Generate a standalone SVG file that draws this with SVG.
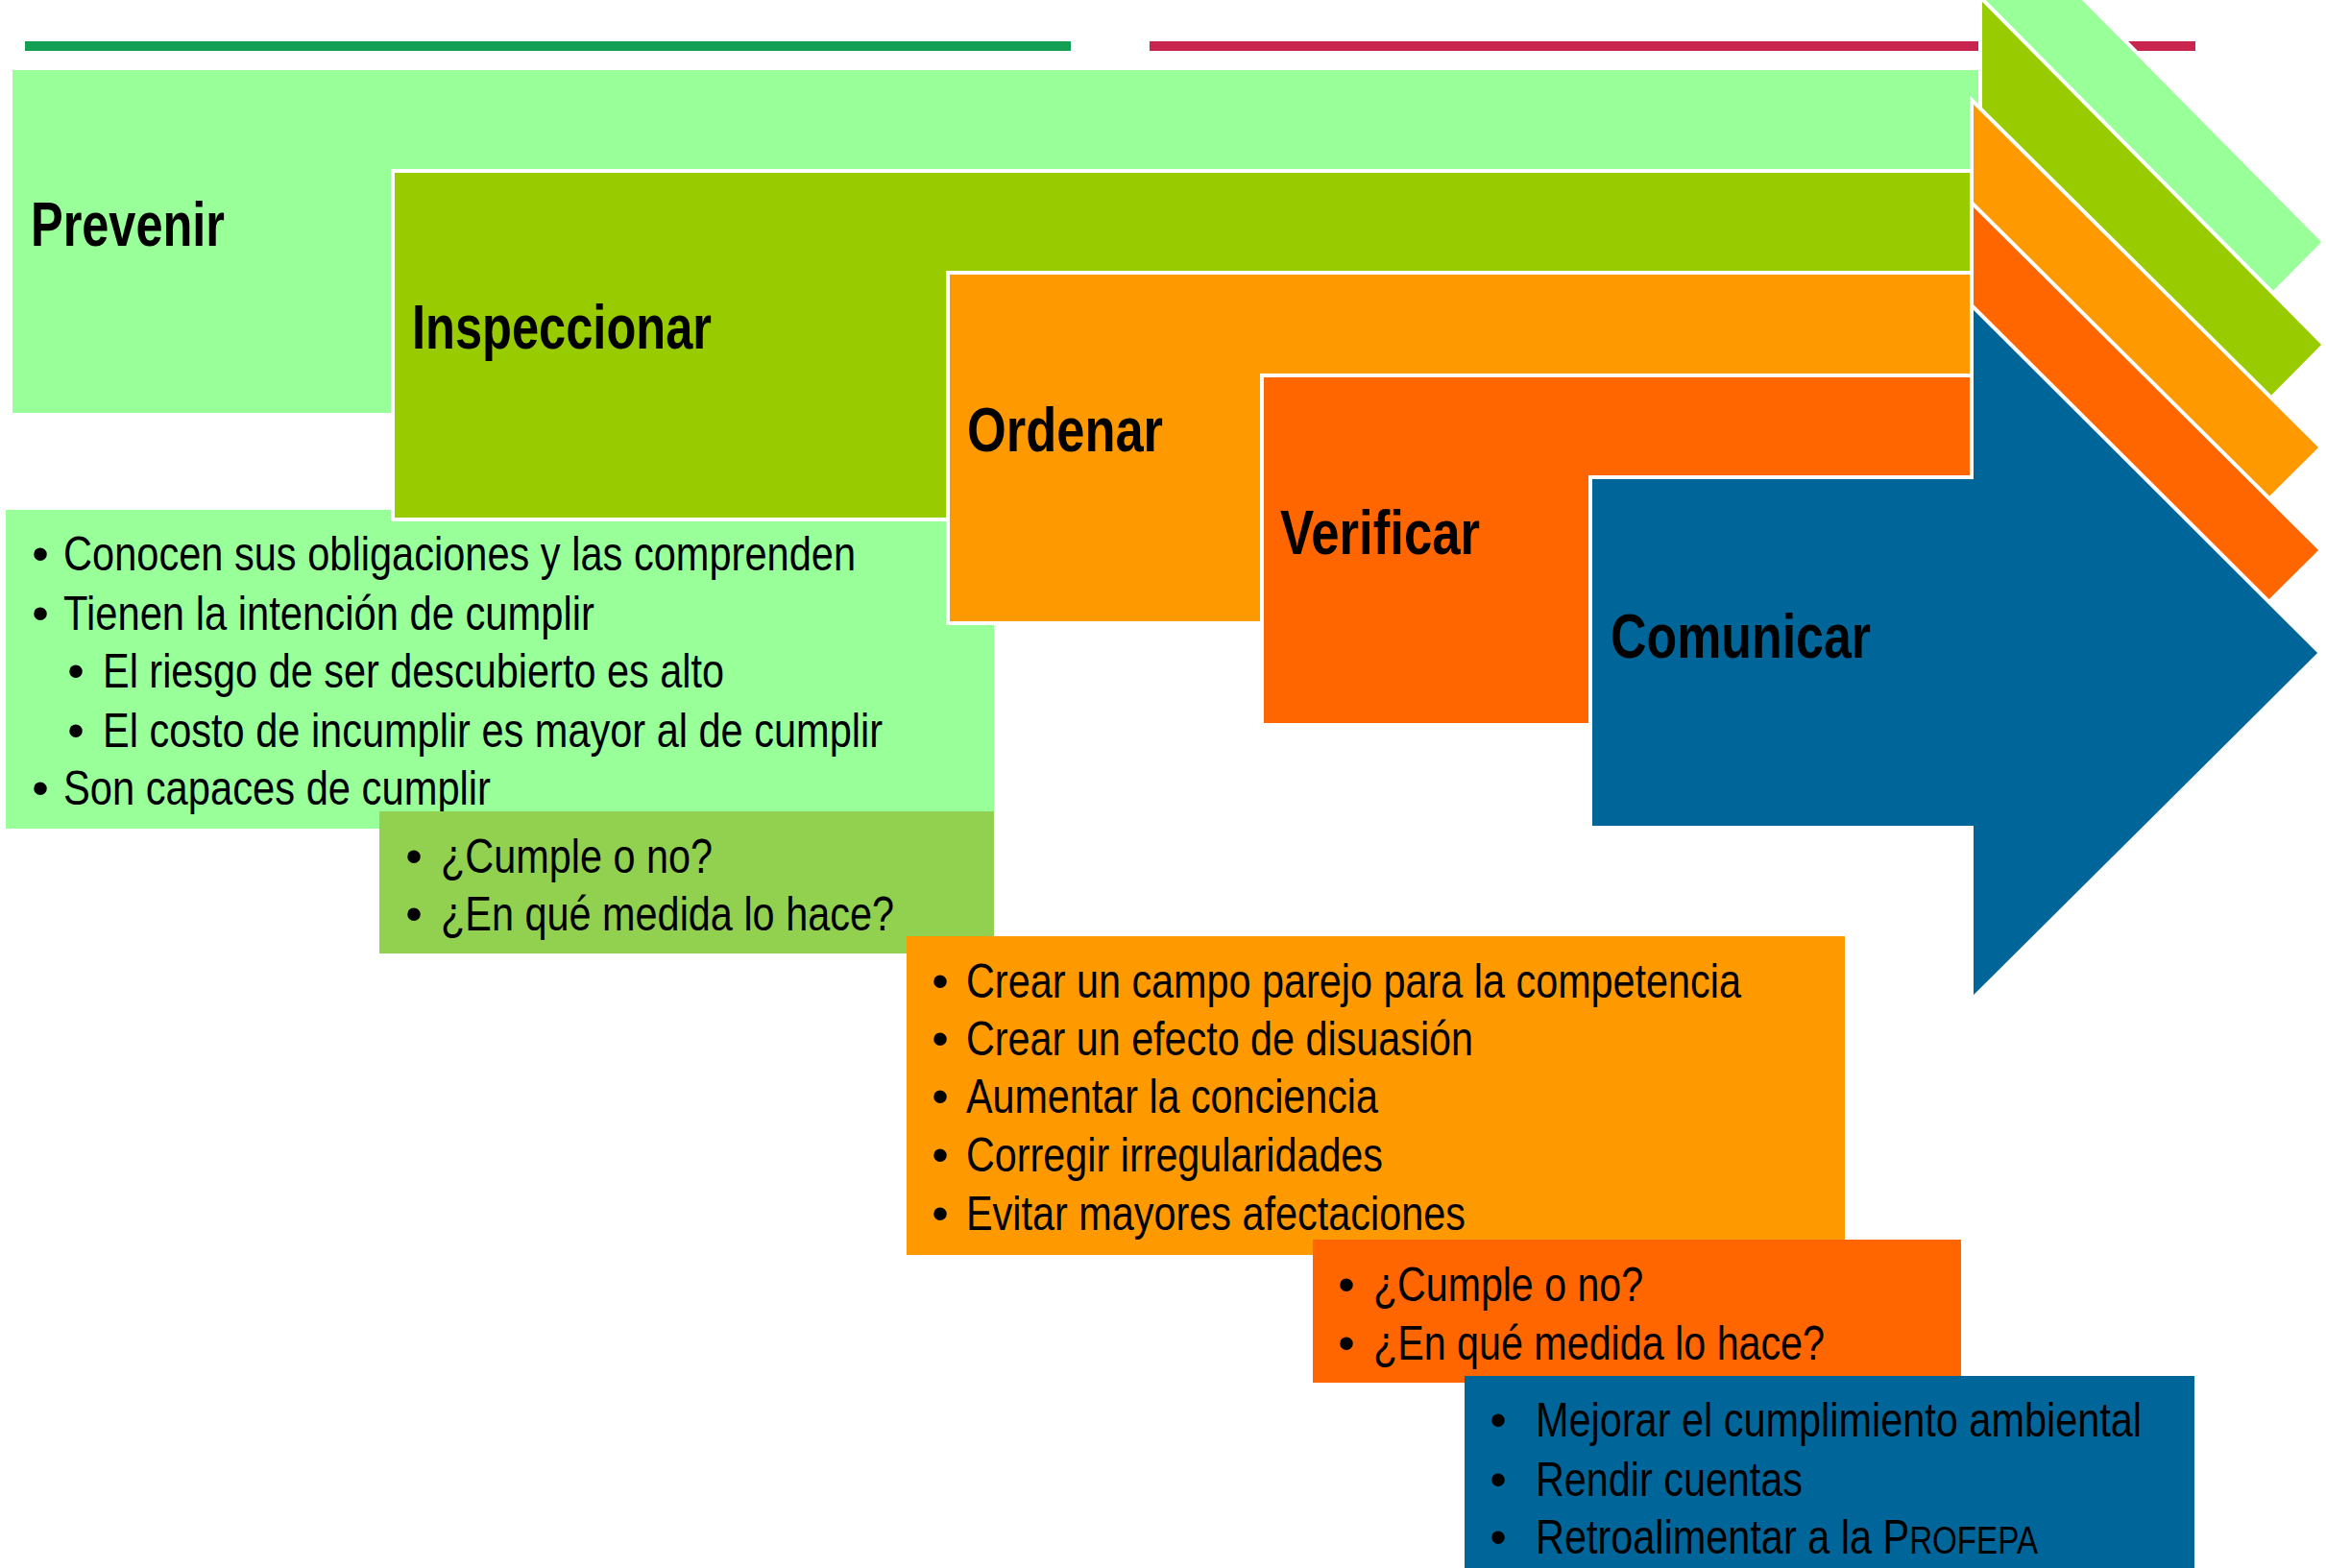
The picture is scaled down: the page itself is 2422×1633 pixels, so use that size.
<svg xmlns="http://www.w3.org/2000/svg" width="2422" height="1633" viewBox="0 0 2422 1633">
<style>
.arw{stroke:#FFFFFF;stroke-width:4;stroke-linejoin:miter}
.t{font-family:"Liberation Sans",Arial,sans-serif;font-size:50px;fill:#000000}
.b{font-family:"Liberation Sans",Arial,sans-serif;font-size:50px;fill:#000000;text-anchor:middle}
.h{font-family:"Liberation Sans",Arial,sans-serif;font-size:64px;font-weight:bold;fill:#000000}
</style>
<rect width="2422" height="1633" fill="#FFFFFF"/>
<g id="top-lines">
<rect x="26" y="43" width="1089" height="10" fill="#13A055"/>
<rect x="1197" y="43" width="1089" height="10" fill="#C8254F"/>
</g>
<g id="connectors"/>
<g id="prevenir">
<rect x="6" y="531" width="1029" height="332" fill="#99FF99"/>
<polygon class="arw" fill="#99FF99" points="11,71 2062,71 2062,-110 2420,252 2062,614 2062,432 11,432"/>
<text class="h" x="32" y="256" textLength="202" lengthAdjust="spacingAndGlyphs">Prevenir</text>
<text class="b" x="42" y="594">•</text><text class="t" x="66" y="594" textLength="825" lengthAdjust="spacingAndGlyphs">Conocen sus obligaciones y las comprenden</text>
<text class="b" x="42" y="656">•</text><text class="t" x="66" y="656" textLength="553" lengthAdjust="spacingAndGlyphs">Tienen la intención de cumplir</text>
<text class="b" x="79" y="716">•</text><text class="t" x="107" y="716" textLength="647" lengthAdjust="spacingAndGlyphs">El riesgo de ser descubierto es alto</text>
<text class="b" x="79" y="778">•</text><text class="t" x="107" y="778" textLength="812" lengthAdjust="spacingAndGlyphs">El costo de incumplir es mayor al de cumplir</text>
<text class="b" x="42" y="838">•</text><text class="t" x="66" y="838" textLength="445" lengthAdjust="spacingAndGlyphs">Son capaces de cumplir</text>
</g>
<g id="inspeccionar">
<polygon class="arw" fill="#99CC00" points="409,178 2062,178 2062,-3 2420,359 2062,721 2062,541 409,541"/>
<text class="h" x="429" y="363" textLength="312" lengthAdjust="spacingAndGlyphs">Inspeccionar</text>
<rect x="395" y="845" width="640" height="148" fill="#92D050"/>
<text class="b" x="431" y="909">•</text><text class="t" x="459" y="909" textLength="283" lengthAdjust="spacingAndGlyphs">¿Cumple o no?</text>
<text class="b" x="431" y="969">•</text><text class="t" x="459" y="969" textLength="472" lengthAdjust="spacingAndGlyphs">¿En qué medida lo hace?</text>
</g>
<g id="ordenar">
<polygon class="arw" fill="#FF9900" points="987,284 2053,284 2053,104 2417,466 2053,828 2053,649 987,649"/>
<text class="h" x="1007" y="470" textLength="204" lengthAdjust="spacingAndGlyphs">Ordenar</text>
<rect x="944" y="975" width="977" height="332" fill="#FF9900"/>
<text class="b" x="979" y="1039">•</text><text class="t" x="1006" y="1039" textLength="807" lengthAdjust="spacingAndGlyphs">Crear un campo parejo para la competencia</text>
<text class="b" x="979" y="1099">•</text><text class="t" x="1006" y="1099" textLength="528" lengthAdjust="spacingAndGlyphs">Crear un efecto de disuasión</text>
<text class="b" x="979" y="1159">•</text><text class="t" x="1006" y="1159" textLength="429" lengthAdjust="spacingAndGlyphs">Aumentar la conciencia</text>
<text class="b" x="979" y="1220">•</text><text class="t" x="1006" y="1220" textLength="434" lengthAdjust="spacingAndGlyphs">Corregir irregularidades</text>
<text class="b" x="979" y="1281">•</text><text class="t" x="1006" y="1281" textLength="520" lengthAdjust="spacingAndGlyphs">Evitar mayores afectaciones</text>
</g>
<g id="verificar">
<polygon class="arw" fill="#FF6600" points="1314,391 2053,391 2053,211 2417,573 2053,935 2053,755 1314,755"/>
<text class="h" x="1333" y="577" textLength="208" lengthAdjust="spacingAndGlyphs">Verificar</text>
<rect x="1367" y="1291" width="675" height="149" fill="#FF6600"/>
<text class="b" x="1402" y="1355">•</text><text class="t" x="1430" y="1355" textLength="281" lengthAdjust="spacingAndGlyphs">¿Cumple o no?</text>
<text class="b" x="1402" y="1416">•</text><text class="t" x="1430" y="1416" textLength="470" lengthAdjust="spacingAndGlyphs">¿En qué medida lo hace?</text>
</g>
<g id="comunicar">
<polygon class="arw" fill="#006699" points="1656,497 2053,497 2053,318 2416,680 2053,1041 2053,862 1656,862"/>
<text class="h" x="1677" y="685" textLength="271" lengthAdjust="spacingAndGlyphs">Comunicar</text>
<rect x="1525" y="1433" width="760" height="200" fill="#006699"/>
<text class="b" x="1560" y="1496">•</text><text class="t" x="1599" y="1496" textLength="631" lengthAdjust="spacingAndGlyphs">Mejorar el cumplimiento ambiental</text>
<text class="b" x="1560" y="1558">•</text><text class="t" x="1599" y="1558" textLength="278" lengthAdjust="spacingAndGlyphs">Rendir cuentas</text>
<text class="b" x="1560" y="1618">•</text><text class="t" x="1599" y="1618" textLength="523" lengthAdjust="spacingAndGlyphs">Retroalimentar a la P<tspan font-size="40">ROFEPA</tspan></text>
</g>
</svg>
